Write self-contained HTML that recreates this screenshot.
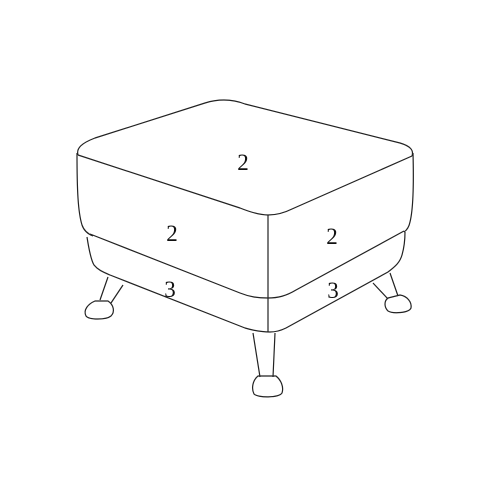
<!DOCTYPE html>
<html><head><meta charset="utf-8"><style>html,body{margin:0;padding:0;background:#fff}svg{display:block}</style></head>
<body>
<svg width="500" height="500" viewBox="0 0 500 500">
<g fill="none" stroke="#222" stroke-width="1.2" stroke-linejoin="round">
<path d="M78,155 C76,148 82,143 95,138 L205,103 C218,99 232,99 245,104 L400,143 C410,146 414,150 412,156"/>
<path d="M78,155 L240,208 C255,214 262,215 268,215 C276,215 284,213 292,209 L412,156"/>
<path d="M77,153 C77,190 78,212 82,225 C84,231 88,234 93,236"/>
<path d="M413,153 C414,190 413,210 410,222 C409,227 407,230 404,232"/>
<path d="M90,234 L240,293 C250,297 258,298 268,298 C278,298 286,296 296,290 L404,231"/>
<path d="M87,237 C89,250 91,260 94,265 C98,270 103,272 110,275 L245,328 C255,331 262,332 270,332 C276,332 280,331 286,328 L388,272 C396,266 400,262 402,255 C404,248 405,240 405,232"/>
<path d="M268,215 L268,332"/>
<path d="M253,333 L260,377 M275,333 L273,377"/>
<path d="M258,376 L276,376 C281,380 284,387 282,393 C279,398 258,398 254,394 C251,388 253,380 258,376 Z"/>
<path d="M108,277 L100,300 M123,285 L111,303"/>
<path d="M95,301 L108,301 C114,305 115,312 111,316 C106,320 89,320 86,316 C83,310 88,304 95,301 Z"/>
<path d="M373,283 L388,299 M390,273 L398,296"/>
<path d="M388,298 L400,295 C407,296 412,302 411,308 C409,313 393,314 388,311 C384,307 384,301 388,298 Z"/>
</g>
<g font-family="'Liberation Serif', serif" font-size="23" fill="#111" text-anchor="middle">
<text x="243" y="170">2</text>
<text x="172" y="241">2</text>
<text x="332" y="244">2</text>
<text x="170" y="297">3</text>
<text x="333" y="298">3</text>
</g>
</svg>
</body></html>
